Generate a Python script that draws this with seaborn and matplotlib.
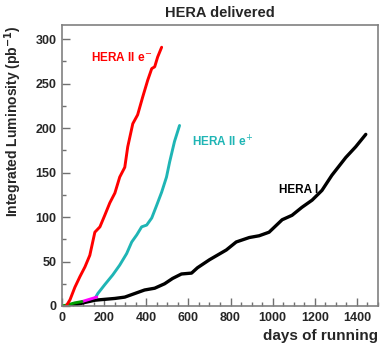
import matplotlib
matplotlib.use("Agg")
import matplotlib.pyplot as plt
import seaborn as sns
import pandas as pd
from matplotlib.ticker import MultipleLocator

sns.set_theme(style="white")
plt.rcParams['font.family'] = ['Liberation Sans', 'DejaVu Sans']

# HERA I (black)
hera1_days = [40, 109, 156, 203, 251, 298, 345, 392, 440, 487, 525, 567, 615, 643, 700,
              780, 827, 889, 936, 983, 1045, 1092, 1139, 1187, 1234, 1281, 1347, 1394, 1442]
hera1_lumi = [0, 4, 6.5, 7.5, 8.5, 10, 14, 18, 20, 25, 31, 36, 37, 43, 52,
              63, 72, 77, 79, 83, 97, 102, 111, 119, 130, 147, 167, 179, 193]

# HERA II e- (red)
e_minus_days = [20, 38, 61, 85, 109, 132, 156, 180, 203, 227, 251, 274, 298, 312, 336,
                359, 383, 407, 426, 440, 454, 473]
e_minus_lumi = [0, 7, 21, 33, 44, 57, 83, 89, 102, 116, 127, 145, 156, 179, 205,
                215, 235, 254, 267, 269, 280, 291]

# HERA II e+ (cyan)
e_plus_days = [160, 170, 203, 241, 274, 307, 331, 355, 378, 402, 426, 449, 473, 496, 511, 534, 558]
e_plus_lumi = [10, 14, 24, 35, 46, 59, 72, 80, 89, 91, 99, 113, 128, 145, 162, 185, 203]

# early segments
green_days = [0, 30, 60, 95]
green_lumi = [0, 1.5, 3.5, 5]
magenta_days = [95, 130, 165]
magenta_lumi = [5, 7.5, 10]

fig = plt.figure(figsize=(3.88, 3.46), dpi=100)
ax = fig.add_axes([62/388, 40/346, 316/388, 281/346])

lw = 2.1
sns.lineplot(x=hera1_days, y=hera1_lumi, ax=ax, color='black', lw=lw + 0.3)
sns.lineplot(x=e_plus_days, y=e_plus_lumi, ax=ax, color='#1fb5b5', lw=lw)
sns.lineplot(x=magenta_days, y=magenta_lumi, ax=ax, color='#ff00ff', lw=lw)
sns.lineplot(x=green_days, y=green_lumi, ax=ax, color='#00a000', lw=lw)
sns.lineplot(x=e_minus_days, y=e_minus_lumi, ax=ax, color='#ff0000', lw=lw)

ax.set_xlim(0, 1500)
ax.set_ylim(0, 316)
ax.xaxis.set_major_locator(MultipleLocator(200))
ax.xaxis.set_minor_locator(MultipleLocator(50))
ax.yaxis.set_major_locator(MultipleLocator(50))
ax.yaxis.set_minor_locator(MultipleLocator(25))
ax.tick_params(which='both', direction='in', color='#707070', bottom=True, left=True,
               top=False, right=False)
ax.tick_params(which='major', length=6, width=1, labelsize=9, pad=4)
ax.tick_params(which='minor', length=3, width=1)
for lab in ax.get_xticklabels() + ax.get_yticklabels():
    lab.set_fontweight('bold')
for s in ax.spines.values():
    s.set_color('#808080')
    s.set_linewidth(1.2)

ax.set_xlabel('days of running', fontsize=11, fontweight='bold', loc='right', labelpad=4)
ax.set_ylabel('Integrated Luminosity (pb$^{\\mathbf{-1}}$)', fontsize=10, fontweight='bold', loc='top', labelpad=8)
ax.set_title('HERA delivered', fontsize=10.5, fontweight='bold', pad=6)

ax.text(137, 280, 'HERA II e$^{-}$', color='#ff0000', fontsize=8.5, fontweight='bold', va='center')
ax.text(619, 185, 'HERA II e$^{+}$', color='#1fb5b5', fontsize=8.5, fontweight='bold', va='center')
ax.text(1031, 130, 'HERA I', color='black', fontsize=8.5, fontweight='bold', va='center')

fig.savefig('out.png', dpi=100)
